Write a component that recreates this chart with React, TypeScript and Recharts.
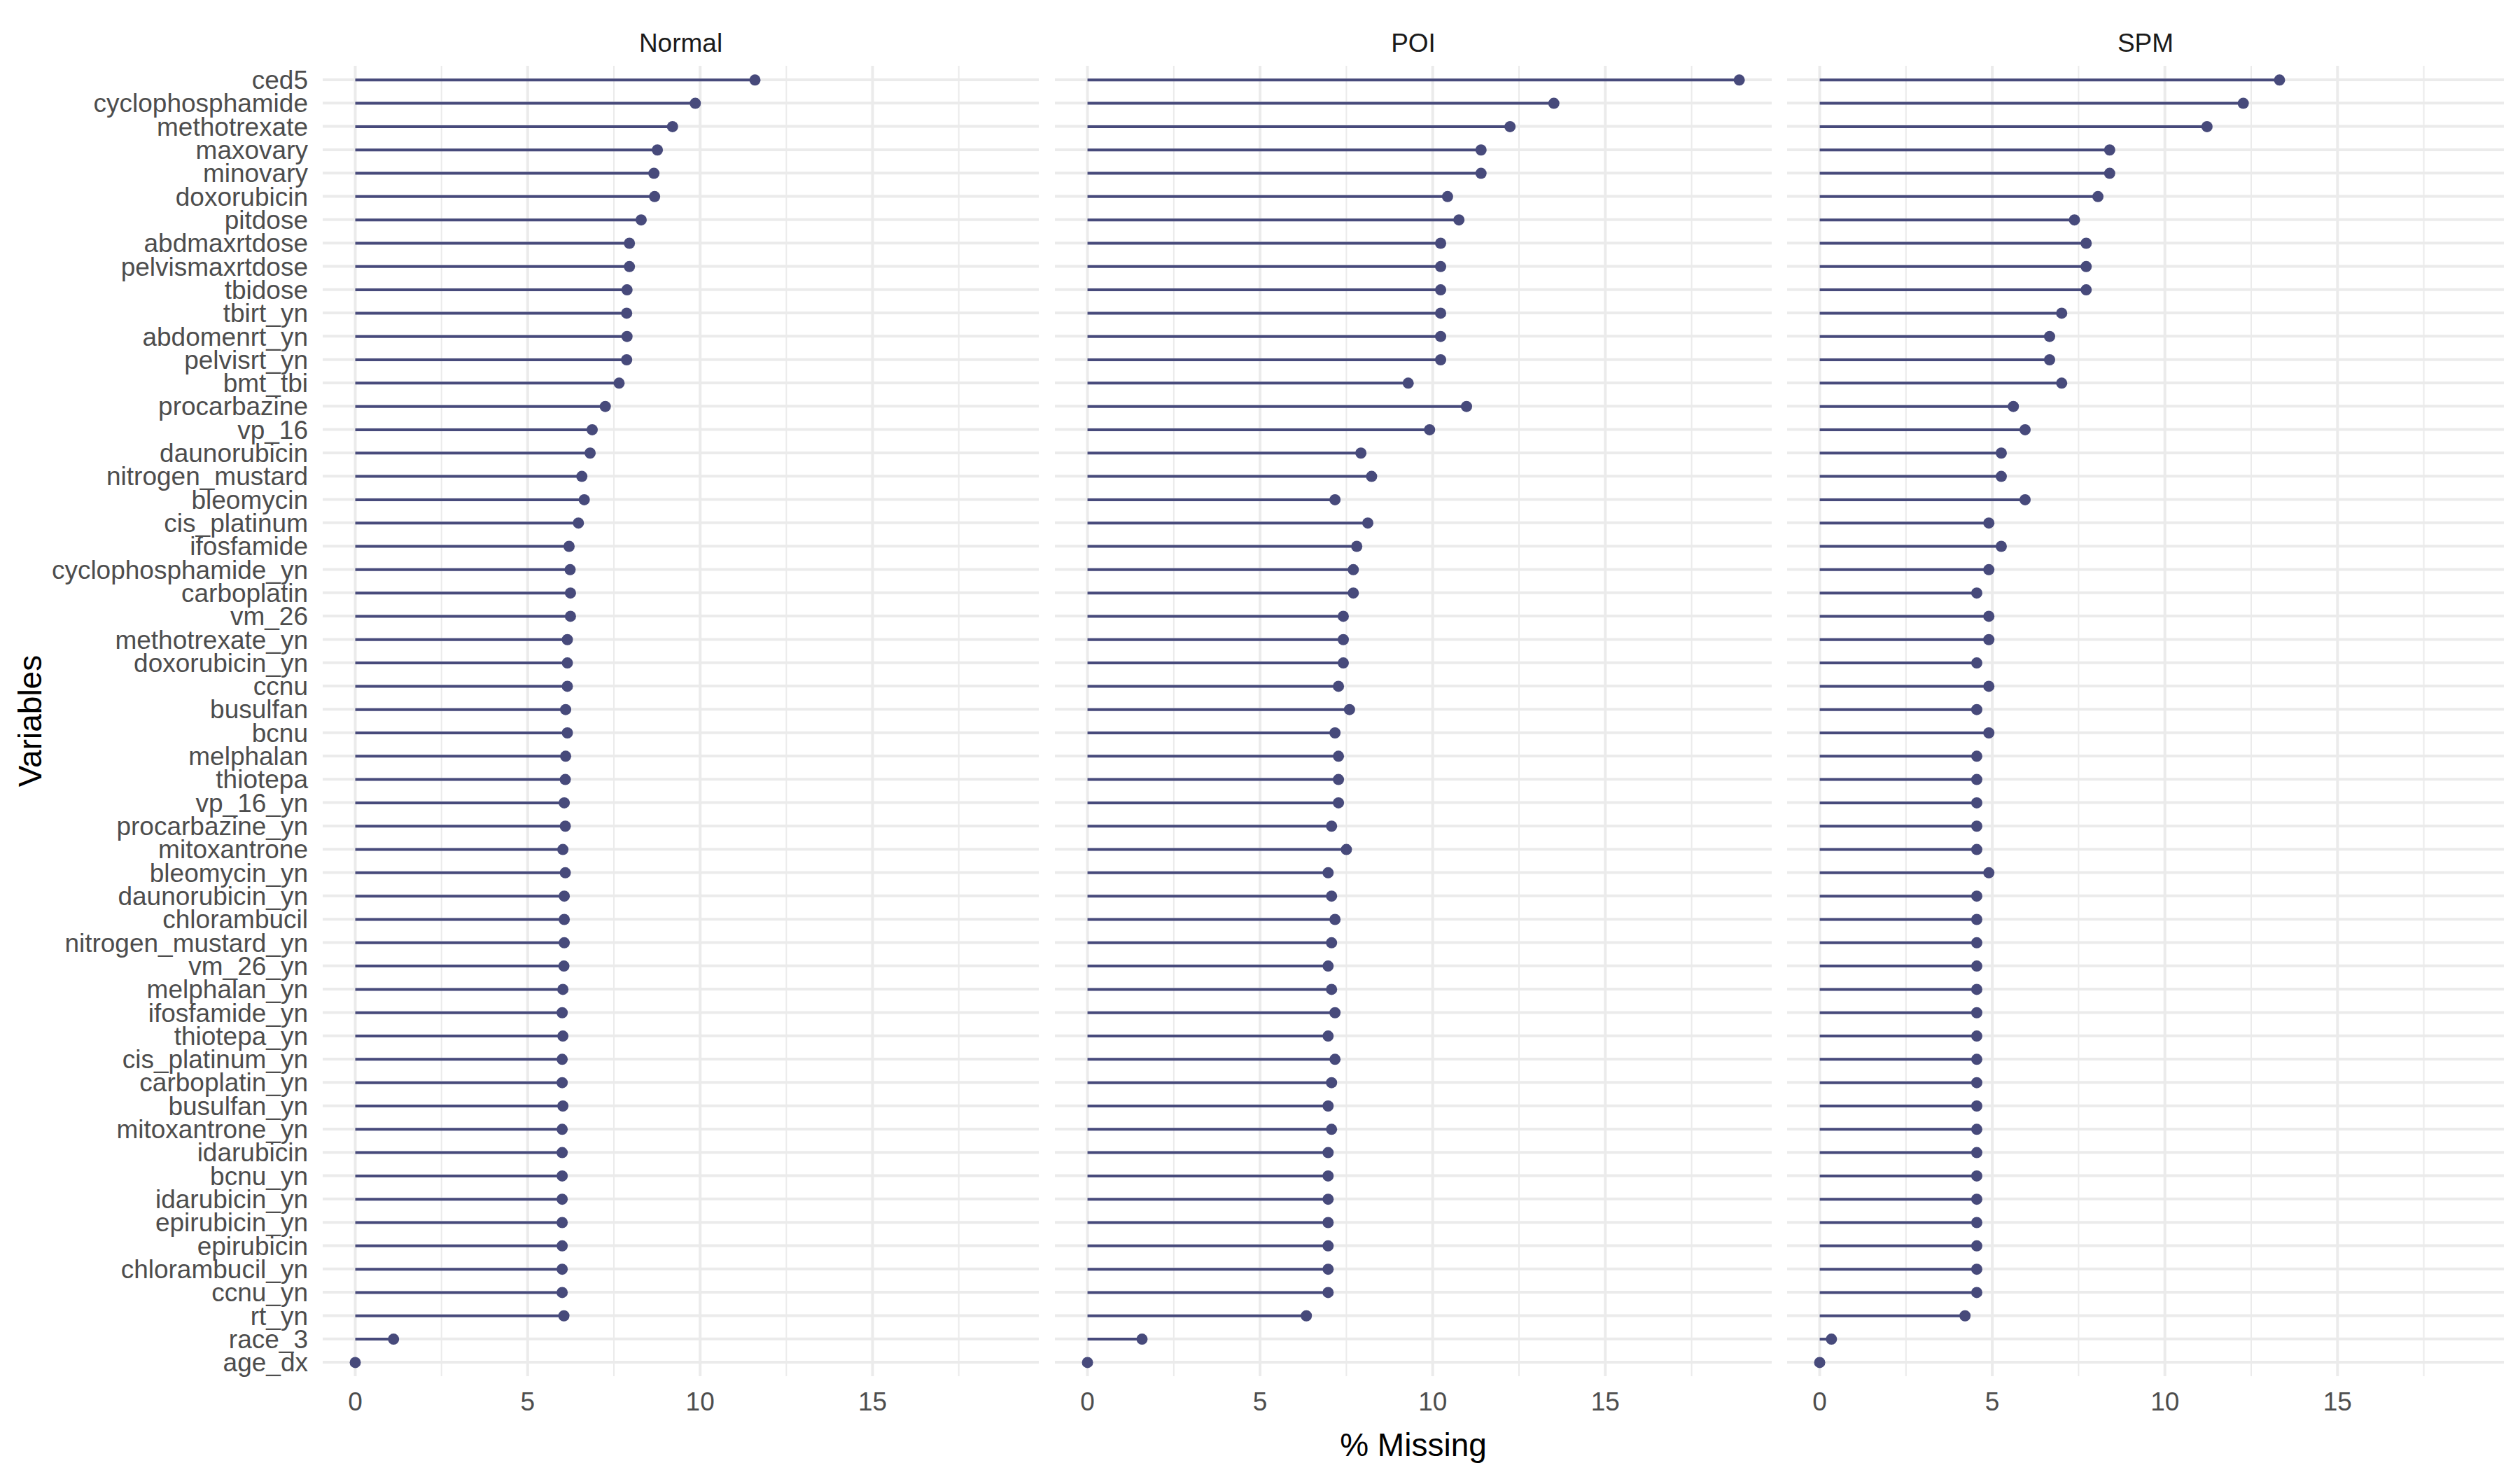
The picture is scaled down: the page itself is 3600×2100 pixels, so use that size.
import { Bar, BarChart, CartesianGrid, XAxis, YAxis } from "recharts"

const variables = [
  "ced5", "cyclophosphamide", "methotrexate", "maxovary", "minovary", "doxorubicin", "pitdose",
  "abdmaxrtdose", "pelvismaxrtdose", "tbidose", "tbirt_yn", "abdomenrt_yn", "pelvisrt_yn", "bmt_tbi",
  "procarbazine", "vp_16", "daunorubicin", "nitrogen_mustard", "bleomycin", "cis_platinum", "ifosfamide",
  "cyclophosphamide_yn", "carboplatin", "vm_26", "methotrexate_yn", "doxorubicin_yn", "ccnu", "busulfan",
  "bcnu", "melphalan", "thiotepa", "vp_16_yn", "procarbazine_yn", "mitoxantrone", "bleomycin_yn",
  "daunorubicin_yn", "chlorambucil", "nitrogen_mustard_yn", "vm_26_yn", "melphalan_yn", "ifosfamide_yn",
  "thiotepa_yn", "cis_platinum_yn", "carboplatin_yn", "busulfan_yn", "mitoxantrone_yn", "idarubicin",
  "bcnu_yn", "idarubicin_yn", "epirubicin_yn", "epirubicin", "chlorambucil_yn", "ccnu_yn", "rt_yn",
  "race_3", "age_dx",
]

const normalMissing = [
  11.59, 9.86, 9.2, 8.76, 8.66, 8.68, 8.29, 7.95, 7.95, 7.88, 7.87, 7.88, 7.87, 7.65,
  7.25, 6.87, 6.81, 6.57, 6.64, 6.47, 6.2, 6.23, 6.24, 6.24, 6.15, 6.15, 6.15, 6.1,
  6.15, 6.1, 6.09, 6.06, 6.09, 6.02, 6.09, 6.06, 6.06, 6.06, 6.05, 6.02, 6.0, 6.02,
  6.0, 6.0, 6.02, 6.0, 6.0, 6.0, 6.0, 6.0, 6.0, 6.0, 6.0, 6.05, 1.11, 0,
]

const poiMissing = [
  18.88, 13.51, 12.24, 11.4, 11.4, 10.43, 10.76, 10.23, 10.23, 10.23, 10.23, 10.23, 10.23, 9.29,
  10.98, 9.91, 7.92, 8.23, 7.17, 8.12, 7.8, 7.7, 7.7, 7.41, 7.41, 7.41, 7.27, 7.59,
  7.17, 7.27, 7.27, 7.27, 7.07, 7.5, 6.97, 7.07, 7.17, 7.07, 6.97, 7.07, 7.17, 6.97,
  7.17, 7.07, 6.97, 7.07, 6.97, 6.97, 6.97, 6.97, 6.97, 6.97, 6.97, 6.34, 1.58, 0,
]

const spmMissing = [
  13.32, 12.27, 11.22, 8.4, 8.4, 8.06, 7.38, 7.72, 7.72, 7.72, 7.01, 6.66, 6.66, 7.01,
  5.61, 5.95, 5.26, 5.26, 5.95, 4.9, 5.26, 4.9, 4.55, 4.9, 4.9, 4.55, 4.9, 4.55,
  4.9, 4.55, 4.55, 4.55, 4.55, 4.55, 4.9, 4.55, 4.55, 4.55, 4.55, 4.55, 4.55, 4.55,
  4.55, 4.55, 4.55, 4.55, 4.55, 4.55, 4.55, 4.55, 4.55, 4.55, 4.55, 4.21, 0.34, 0,
]

const panels = [
  { title: "Normal", values: normalMissing },
  { title: "POI", values: poiMissing },
  { title: "SPM", values: spmMissing },
]

const majorTicks = [0, 5, 10, 15]
const minorTicks = [2.5, 7.5, 12.5, 17.5]
const xDomain = [-0.944, 19.82]

const dotColor = "#474a7b"
const gridColor = "#ebebeb"
const font = "'Liberation Sans', Arial, sans-serif"

const Lollipop = (props: any) => {
  const { x, y, width, height } = props
  const cy = y + height / 2
  return (
    <g>
      <line x1={x} x2={x + width} y1={cy} y2={cy} stroke={dotColor} strokeWidth={4} />
      <circle cx={x + width} cy={cy} r={8} fill={dotColor} />
    </g>
  )
}

function Panel({ values, showY, left, width }: { values: number[]; showY: boolean; left: number; width: number }) {
  const rows = variables.map((name, i) => ({ name, pct: values[i] }))
  return (
    <div style={{ position: "absolute", left, top: 0 }}>
      <BarChart
        width={width}
        height={2100}
        data={rows}
        layout="vertical"
        margin={{ top: 94, right: 0, bottom: 74, left: 0 }}
      >
        <XAxis xAxisId="minor" type="number" domain={xDomain} ticks={minorTicks} allowDataOverflow hide />
        <CartesianGrid xAxisId="minor" horizontal={false} syncWithTicks stroke={gridColor} strokeWidth={2} />
        <CartesianGrid syncWithTicks stroke={gridColor} strokeWidth={4} />
        <XAxis
          type="number"
          dataKey="pct"
          domain={xDomain}
          ticks={majorTicks}
          allowDataOverflow
          axisLine={false}
          tickLine={false}
          tickSize={23}
          tickMargin={0}
          height={60}
          tick={{ fill: "#4d4d4d", fontSize: 37, fontFamily: font }}
        />
        <YAxis
          type="category"
          dataKey="name"
          hide={!showY}
          width={showY ? 461 : 0}
          interval={0}
          padding={{ top: 3.3, bottom: 3.3 }}
          axisLine={false}
          tickLine={false}
          tickSize={21}
          tickMargin={0}
          tick={{ fill: "#4d4d4d", fontSize: 37, fontFamily: font }}
        />
        <Bar dataKey="pct" barSize={4} shape={Lollipop} isAnimationActive={false} />
      </BarChart>
    </div>
  )
}

export default function App() {
  const lefts = [0, 1507, 2553]
  const widths = [1484, 1024, 1024]
  const centers = [972.5, 2019, 3065]
  return (
    <div style={{ position: "absolute", left: 0, top: 0, width: 3600, height: 2100, background: "#fff" }}>
      {panels.map((p, i) => (
        <Panel key={p.title} values={p.values} showY={i === 0} left={lefts[i]} width={widths[i]} />
      ))}
      <svg width={3600} height={2100} style={{ position: "absolute", left: 0, top: 0, pointerEvents: "none" }}>
        {panels.map((p, i) => (
          <text key={p.title} x={centers[i]} y={74} textAnchor="middle" fontSize={37} fontFamily={font} fill="#1a1a1a">
            {p.title}
          </text>
        ))}
        <text x={2019} y={2080} textAnchor="middle" fontSize={46} fontFamily={font} fill="#000">
          % Missing
        </text>
        <text
          x={59}
          y={1030}
          textAnchor="middle"
          fontSize={46}
          fontFamily={font}
          fill="#000"
          transform="rotate(-90 59 1030)"
        >
          Variables
        </text>
      </svg>
    </div>
  )
}
